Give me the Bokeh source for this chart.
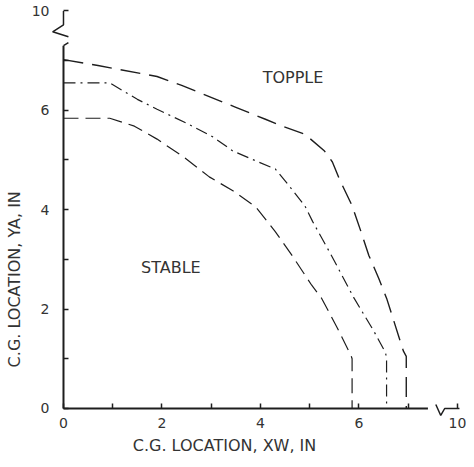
import numpy as np
from bokeh.plotting import figure
from bokeh.models import Range1d, FixedTicker, Label
from bokeh.core.properties import value
from bokeh.embed import file_html
from bokeh.resources import INLINE

# ---- data ----
outer_x = [0.0, 0.7, 1.9, 2.4, 3.5, 4.1, 4.44, 4.9, 5.3, 5.46, 5.6, 5.86, 6.04, 6.2, 6.4, 6.56, 6.9, 6.96, 6.96]
outer_y = [7.02, 6.9, 6.68, 6.5, 6.06, 5.82, 5.68, 5.52, 5.18, 4.96, 4.62, 4.08, 3.56, 3.08, 2.62, 2.22, 1.16, 1.05, 0.0]

middle_x = [0.0, 0.94, 1.5, 1.9, 2.5, 3.04, 3.44, 3.96, 4.3, 4.5, 4.9, 5.06, 5.44, 5.76, 5.9, 6.3, 6.54, 6.56, 6.56]
middle_y = [6.55, 6.55, 6.22, 6.02, 5.74, 5.46, 5.18, 4.96, 4.82, 4.58, 4.08, 3.76, 3.08, 2.48, 2.22, 1.56, 1.12, 1.0, 0.0]

inner_x = [0.0, 0.94, 1.44, 1.9, 2.44, 2.96, 3.44, 3.9, 4.3, 4.64, 5.04, 5.24, 5.56, 5.84, 5.86, 5.86]
inner_y = [5.84, 5.84, 5.68, 5.42, 5.06, 4.66, 4.38, 4.06, 3.56, 3.08, 2.48, 2.22, 1.62, 1.06, 1.0, 0.0]

x_ticks = [0, 1, 2, 3, 4, 5, 6, 7, 8]
x_tick_labels = ["0", "", "2", "", "4", "", "6", "", "10"]
y_ticks = [0, 1, 2, 3, 4, 5, 6, 7, 8]
y_tick_labels = ["0", "", "2", "", "4", "", "6", "", "10"]

region_text = ["TOPPLE", "STABLE"]
region_x = [4.66, 2.18]
region_y = [6.66, 2.84]

x_title = "C.G. LOCATION, XW, IN"
y_title = "C.G. LOCATION, YA, IN"

# axis-break decorations (broken axes up to the "10" tick)
x_axis_end = 7.4
y_axis_end = 7.3
x_break_x = [7.56, 7.66, 7.74, 8.04]
x_break_y = [0.08, -0.14, 0.0, 0.0]
y_break_x = [0.1, -0.22, 0.0, 0.0]
y_break_y = [7.48, 7.58, 7.72, 8.0]

INK = "#1e1e1e"
TXT = "#333333"
FONT = "DejaVu Sans"

p = figure(width=466, height=455, output_backend="svg", toolbar_location=None,
           x_range=Range1d(-1.279, 8.183), y_range=Range1d(-0.9457, 8.209),
           min_border_left=0, min_border_right=0, min_border_top=0, min_border_bottom=0)
p.grid.visible = False
p.outline_line_color = None
p.background_fill_color = "white"
p.border_fill_color = "white"

for ax, ticks, labels, standoff in ((p.xaxis[0], x_ticks, x_tick_labels, 10),
                                    (p.yaxis[0], y_ticks, y_tick_labels, 14)):
    ax.fixed_location = 0
    ax.bounds = (0, 8)
    ax.axis_line_color = None
    ax.ticker = FixedTicker(ticks=ticks)
    ax.major_label_overrides = {t: l for t, l in zip(ticks, labels)}
    ax.major_tick_in = 5
    ax.major_tick_out = 0
    ax.minor_tick_line_color = None
    ax.major_tick_line_width = 1.5
    ax.major_tick_line_color = INK
    ax.major_label_text_font = FONT
    ax.major_label_text_font_size = "14px"
    ax.major_label_text_color = TXT
    ax.major_label_standoff = standoff

# axis lines with breaks
p.line([0, x_axis_end], [0, 0], line_color=INK, line_width=2)
p.line([0, 0], [0, y_axis_end], line_color=INK, line_width=2)
p.line([0, 0.1], [y_axis_end, y_axis_end + 0.06], line_color=INK, line_width=1.5)
p.line(x_break_x, x_break_y, line_color=INK, line_width=1.5)
p.line(y_break_x, y_break_y, line_color=INK, line_width=1.5)

# boundary curves
p.line(outer_x, outer_y, line_color=INK, line_width=1.4, line_dash="20 9")
p.line(middle_x, middle_y, line_color=INK, line_width=1.2, line_dash="12 5 2 5")
p.line(inner_x, inner_y, line_color=INK, line_width=1.2, line_dash="15 7")

p.text(x=region_x, y=region_y, text=region_text, text_font=value(FONT),
       text_font_size=value("16px"), text_color=TXT,
       text_align="center", text_baseline="middle")

p.add_layout(Label(x=3.27, y=-0.74, text=x_title, text_align="center", text_baseline="middle",
                   text_font=FONT, text_font_size="16px", text_color=TXT))
p.add_layout(Label(x=-0.99, y=2.6, text=y_title, angle=np.pi / 2, text_align="center",
                   text_baseline="middle", text_font=FONT, text_font_size="16px",
                   text_color=TXT))

open("out.html", "w").write(file_html(p, INLINE))
